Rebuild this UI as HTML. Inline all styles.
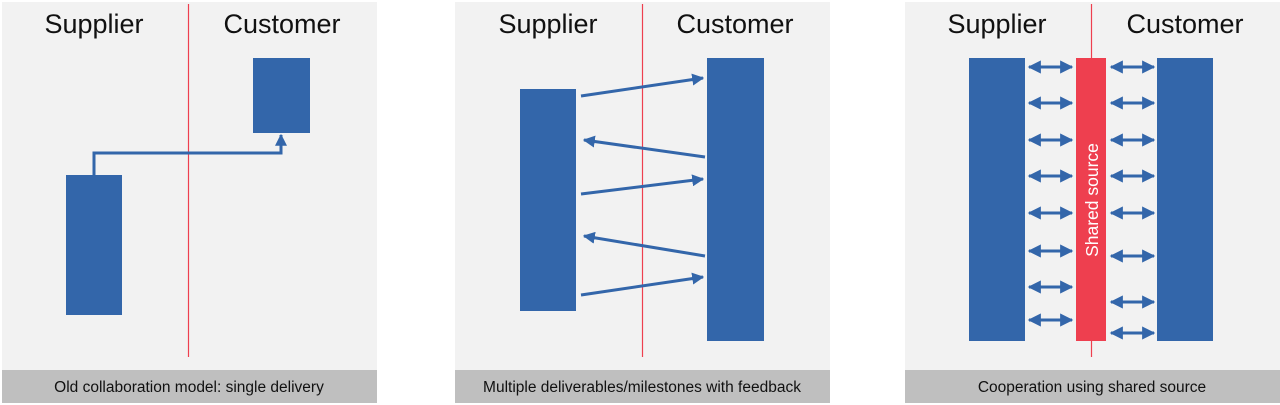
<!DOCTYPE html>
<html><head><meta charset="utf-8"><style>
html,body{margin:0;padding:0;background:#fff;width:1280px;height:405px;overflow:hidden}
svg{display:block}
text{font-family:"Liberation Sans",sans-serif}
</style></head><body>
<svg width="1280" height="405" viewBox="0 0 1280 405" xmlns="http://www.w3.org/2000/svg">
<defs>
<marker id="a" viewBox="0 0 10 10" refX="9" refY="5" markerWidth="4" markerHeight="4" orient="auto-start-reverse" markerUnits="strokeWidth">
<path d="M0,0 L10,5 L0,10 z" fill="#3366aa"/></marker>
<marker id="b" viewBox="0 0 10 10" refX="9" refY="5" markerWidth="4.4" markerHeight="4.4" orient="auto-start-reverse" markerUnits="strokeWidth">
<path d="M0,0 L10,5 L0,10 z" fill="#3366aa"/></marker>
</defs>
<g fill="#f2f2f2"><rect x="2" y="2" width="375" height="368"/><rect x="455" y="2" width="375" height="368"/><rect x="905" y="2" width="375" height="368"/></g>
<g fill="#bfbfbf"><rect x="2" y="370" width="375" height="33"/><rect x="455" y="370" width="375" height="33"/><rect x="905" y="370" width="375" height="33"/></g>
<g font-size="15.5" fill="#111" text-anchor="middle">
<text x="189" y="392">Old collaboration model: single delivery</text>
<text x="642" y="392">Multiple deliverables/milestones with feedback</text>
<text x="1092" y="392">Cooperation using shared source</text>
</g>
<g font-size="27" fill="#111" text-anchor="middle">
<text x="94" y="33">Supplier</text><text x="282" y="33">Customer</text>
<text x="548" y="33">Supplier</text><text x="735" y="33">Customer</text>
<text x="997" y="33">Supplier</text><text x="1185" y="33">Customer</text>
</g>
<g stroke="#ee3f4f" stroke-width="1.2">
<line x1="188.5" y1="4" x2="188.5" y2="357"/><line x1="642.5" y1="4" x2="642.5" y2="357"/><line x1="1091.5" y1="4" x2="1091.5" y2="357"/>
</g>
<g fill="#3366aa">
<rect x="66" y="175" width="56" height="140"/><rect x="253" y="58" width="57" height="75"/>
<rect x="520" y="89" width="56" height="222"/><rect x="707" y="58" width="57" height="283"/>
<rect x="969" y="58" width="56" height="283"/><rect x="1157" y="58" width="56" height="283"/>
</g>
<rect x="1076" y="58" width="30" height="283" fill="#ee3f4f"/>
<text transform="translate(1098,200) rotate(-90)" font-size="17.5" fill="#fff" text-anchor="middle">Shared source</text>
<g stroke="#3366aa" stroke-width="3" fill="none" marker-end="url(#a)">
<polyline points="94,175 94,153 281,153 281,135"/>
<line x1="581" y1="96" x2="703" y2="78"/>
<line x1="705" y1="157" x2="584" y2="140"/>
<line x1="581" y1="194" x2="703" y2="179"/>
<line x1="705" y1="256" x2="584" y2="236"/>
<line x1="581" y1="295" x2="703" y2="277"/>
</g>
<g stroke="#3366aa" stroke-width="3" marker-end="url(#b)" marker-start="url(#b)">
<line x1="1029" y1="67" x2="1072" y2="67"/><line x1="1029" y1="103" x2="1072" y2="103"/>
<line x1="1029" y1="140" x2="1072" y2="140"/><line x1="1029" y1="176" x2="1072" y2="176"/>
<line x1="1029" y1="213" x2="1072" y2="213"/><line x1="1029" y1="251" x2="1072" y2="251"/>
<line x1="1029" y1="287" x2="1072" y2="287"/><line x1="1029" y1="320" x2="1072" y2="320"/>
<line x1="1111" y1="67" x2="1154" y2="67"/><line x1="1111" y1="103" x2="1154" y2="103"/>
<line x1="1111" y1="140" x2="1154" y2="140"/><line x1="1111" y1="176" x2="1154" y2="176"/>
<line x1="1111" y1="213" x2="1154" y2="213"/><line x1="1111" y1="256" x2="1154" y2="256"/>
<line x1="1111" y1="302" x2="1154" y2="302"/><line x1="1111" y1="333" x2="1154" y2="333"/>
</g>
</svg>
</body></html>
